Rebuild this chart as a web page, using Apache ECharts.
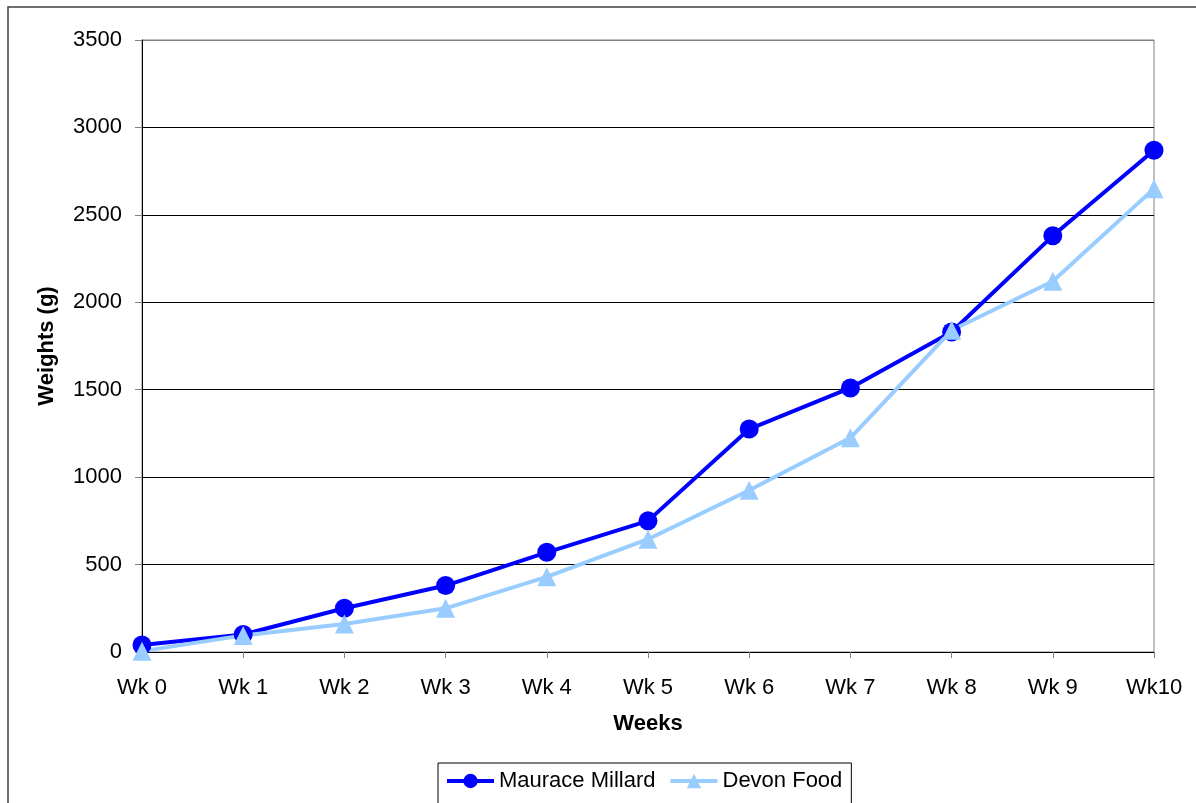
<!DOCTYPE html>
<html>
<head>
<meta charset="utf-8">
<title>Weights</title>
<script src="https://cdn.jsdelivr.net/npm/echarts@6/dist/echarts.min.js"></script>
<style>
  html, body { margin: 0; padding: 0; background: #fff; }
  #chart { width: 1196px; height: 803px; }
</style>
</head>
<body>
<div id="chart"></div>
<script>
// categories on the x axis
var weeks = ['Wk 0', 'Wk 1', 'Wk 2', 'Wk 3', 'Wk 4', 'Wk 5', 'Wk 6', 'Wk 7', 'Wk 8', 'Wk 9', 'Wk10'];
// weights in grams
var maurace = [40, 100, 250, 380, 570, 750, 1275, 1510, 1830, 2380, 2870];
var devon = [5, 95, 160, 250, 430, 645, 925, 1225, 1840, 2120, 2650];
var seriesNames = ['Maurace Millard', 'Devon Food'];

var font = 'Arial, "Liberation Sans", sans-serif';

var chart = echarts.init(document.getElementById('chart'));

var option = {
  animation: false,
  backgroundColor: '#fff',
  textStyle: { fontFamily: font },
  // outer frame round the whole chart
  graphic: [{
    type: 'rect',
    shape: { x: 8, y: 7, width: 1300, height: 900 },
    style: { fill: 'none', stroke: '#404040', lineWidth: 1.5 },
    z: -1
  }],
  grid: {
    left: 142,
    right: 42,
    top: 40,
    bottom: 151,
    show: true,
    borderColor: '#808080',
    borderWidth: 1
  },
  legend: {
    left: 438,
    top: 763,
    padding: [7, 9, 12, 7],
    itemGap: 13,
    itemWidth: 47,
    itemHeight: 18,
    borderColor: '#000',
    borderWidth: 1,
    lineStyle: { width: 4 },
    textStyle: { fontSize: 22, color: '#000', fontFamily: font },
    data: seriesNames
  },
  xAxis: {
    type: 'category',
    data: weeks,
    boundaryGap: false,
    name: 'Weeks',
    nameLocation: 'middle',
    nameGap: 61,
    nameTextStyle: { fontSize: 22, fontWeight: 'bold', color: '#000', fontFamily: font },
    axisLine: { lineStyle: { color: '#000', width: 1 } },
    axisTick: { show: true, length: 6, alignWithLabel: true, lineStyle: { color: '#808080' } },
    axisLabel: { fontSize: 22, color: '#000', margin: 25, fontFamily: font },
    splitLine: { show: false }
  },
  yAxis: {
    type: 'value',
    min: 0,
    max: 3500,
    interval: 500,
    name: 'Weights (g)',
    nameLocation: 'middle',
    nameRotate: 90,
    nameGap: 84,
    nameTextStyle: { fontSize: 22, fontWeight: 'bold', color: '#000', fontFamily: font },
    axisLine: { show: true, lineStyle: { color: '#000', width: 1 } },
    axisTick: { show: true, length: 7, lineStyle: { color: '#808080' } },
    axisLabel: {
      fontSize: 22, color: '#000', margin: 20, fontFamily: font,
      formatter: function (v) { return String(v); }
    },
    splitLine: {
      show: true,
      lineStyle: {
        color: ['#000', '#000', '#000', '#000', '#000', '#000', '#000', '#808080'],
        width: 1
      }
    }
  },
  series: [
    {
      name: seriesNames[0],
      type: 'line',
      data: maurace,
      symbol: 'circle',
      symbolSize: 19,
      color: '#0000ff',
      lineStyle: { width: 4, color: '#0000ff' },
      itemStyle: { color: '#0000ff' }
    },
    {
      name: seriesNames[1],
      type: 'line',
      data: devon,
      symbol: 'triangle',
      symbolSize: 19,
      color: '#99ccff',
      lineStyle: { width: 4, color: '#99ccff' },
      itemStyle: { color: '#99ccff' }
    }
  ]
};

chart.setOption(option);
</script>
</body>
</html>
